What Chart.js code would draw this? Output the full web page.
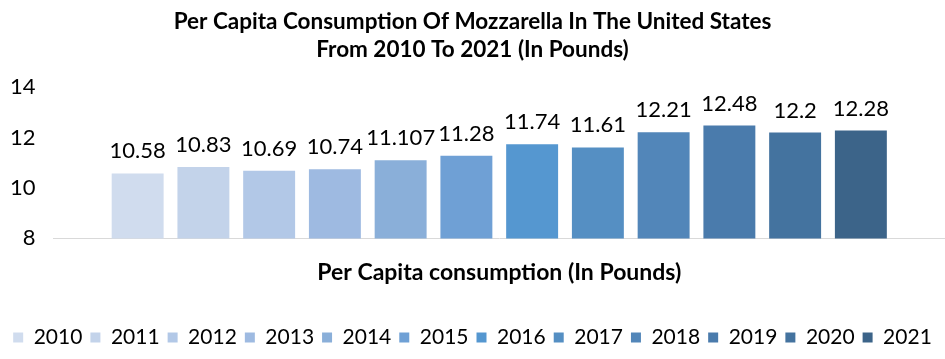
<!DOCTYPE html>
<html>
<head>
<meta charset="utf-8">
<script src="https://cdn.jsdelivr.net/npm/chart.js@4"></script>
<style>
  html, body { margin: 0; padding: 0; background: #fff; }
  #wrap { width: 945px; height: 359px; }
</style>
</head>
<body>
<div id="wrap"><canvas id="mozzChart"></canvas></div>
<script>
// === Datos ===
const years = ['2010', '2011', '2012', '2013', '2014', '2015', '2016', '2017', '2018', '2019', '2020', '2021'];
const consumption = [10.58, 10.83, 10.69, 10.74, 11.107, 11.28, 11.74, 11.61, 12.21, 12.48, 12.2, 12.28];
const categoryLabels = ['Per Capita consumption (In Pounds)'];
const yTicks = [8, 10, 12, 14];
const barColors = ['#D0DCEE', '#C3D3EA', '#B2C8E7', '#9EBAE1', '#8AAFD9', '#6FA0D5',
                   '#5597D0', '#558FC3', '#5286B9', '#4A7BAC', '#44739F', '#3C6489'];

const FONT = 'Lato, "Liberation Sans", sans-serif';

// etiquetas de valor encima de cada barra
const valueLabels = {
    id: 'valueLabels',
    afterDatasetsDraw(chart) {
        const ctx = chart.ctx;
        ctx.save();
        ctx.font = '22px ' + FONT;
        ctx.fillStyle = '#000';
        ctx.textAlign = 'center';
        ctx.textBaseline = 'alphabetic';
        chart.data.datasets.forEach((ds, i) => {
            const bar = chart.getDatasetMeta(i).data[0];
            ctx.fillText(String(ds.data[0]), bar.x, bar.y - 15);
        });
        ctx.restore();
    }
};

const datasets = years.map((year, i) => ({
    label: year,
    data: [consumption[i]],
    backgroundColor: barColors[i],
    borderWidth: 0
}));

new Chart(document.getElementById('mozzChart'), {
    type: 'bar',
    data: { labels: categoryLabels, datasets: datasets },
    options: {
        responsive: true,
        maintainAspectRatio: false,
        animation: false,
        categoryPercentage: 0.885,
        barPercentage: 0.79,
        layout: { padding: { left: 0, right: 0, top: 4, bottom: 1 } },
        scales: {
            x: {
                grid: { display: false },
                border: { display: true, color: '#D9D9D9', width: 1 },
                ticks: {
                    color: '#000',
                    padding: 12,
                    font: { family: FONT, size: 23, weight: 'bold' }
                },
                afterFit(scale) { scale.height += 21; }
            },
            y: {
                min: 8,
                max: 14,
                grid: { display: false },
                border: { display: false },
                afterBuildTicks(scale) { scale.ticks = yTicks.map(v => ({ value: v })); },
                ticks: {
                    color: '#000',
                    padding: 10,
                    font: { family: FONT, size: 22 }
                }
            }
        },
        plugins: {
            title: {
                display: true,
                text: ['Per Capita Consumption Of Mozzarella In The United States', 'From 2010 To 2021 (In Pounds)'],
                color: '#000',
                font: { family: FONT, size: 22.5, weight: 'bold', lineHeight: 1.25 },
                padding: { top: 4, bottom: 23 }
            },
            legend: {
                display: true,
                position: 'bottom',
                labels: {
                    color: '#000',
                    boxWidth: 10,
                    boxHeight: 10,
                    padding: 8,
                    font: { family: FONT, size: 21 }
                }
            },
            tooltip: { enabled: false }
        }
    },
    plugins: [valueLabels]
});
</script>
</body>
</html>
